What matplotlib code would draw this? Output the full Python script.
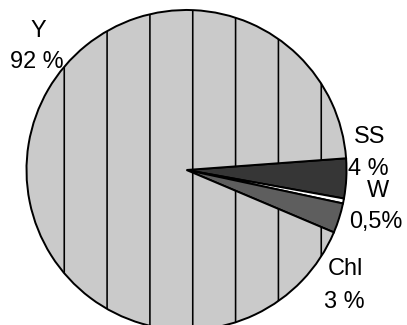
import matplotlib
matplotlib.use("Agg")
import matplotlib.pyplot as plt

# data
labels = ["SS", "W", "Chl", "Y"]
values = [4, 0.5, 3, 92]
pct_labels = ["4 %", "0,5%", "3 %", "92 %"]
colors = ["#363636", "#ffffff", "#5e5e5e", "#cacaca"]
hatches = ["", "", "", "|"]

DPI = 257
W, H = 407, 325
plt.rcParams["font.family"] = ["Liberation Sans", "DejaVu Sans"]
plt.rcParams["hatch.linewidth"] = 0.45

fig = plt.figure(figsize=(W / DPI, H / DPI), dpi=DPI)
cx, cy, r = 186.5, 170.0, 160.0  # pixel centre (from top) and radius
ax = fig.add_axes([(cx - r) / W, (H - cy - r) / H, 2 * r / W, 2 * r / H])

wedges, _ = ax.pie(values, colors=colors, startangle=4.2, counterclock=False,
                   wedgeprops=dict(edgecolor="black", linewidth=0.55))
for w, h in zip(wedges, hatches):
    w.set_hatch(h)
    w.set_clip_on(False)
ax.set_xlim(-1, 1)
ax.set_ylim(-1, 1)
ax.set_aspect("equal")
ax.axis("off")

fs = 6.6
def px(x, y):
    return ((x - cx) / r, (cy - y) / r)

# label positions (pixel, baseline)
pos = {
    "Y": ((38.5, 37), (36.5, 68)),
    "SS": ((370, 143), (368, 175)),
    "W": ((378, 197), (376, 228)),
    "Chl": ((345, 275), (344, 308)),
}
for lab, pct in zip(labels, pct_labels):
    (x1, y1), (x2, y2) = pos[lab]
    ax.text(*px(x1, y1), lab, ha="center", va="baseline", fontsize=fs, clip_on=False)
    ax.text(*px(x2, y2), pct, ha="center", va="baseline", fontsize=fs, clip_on=False)

fig.savefig("out.png", dpi=DPI)
